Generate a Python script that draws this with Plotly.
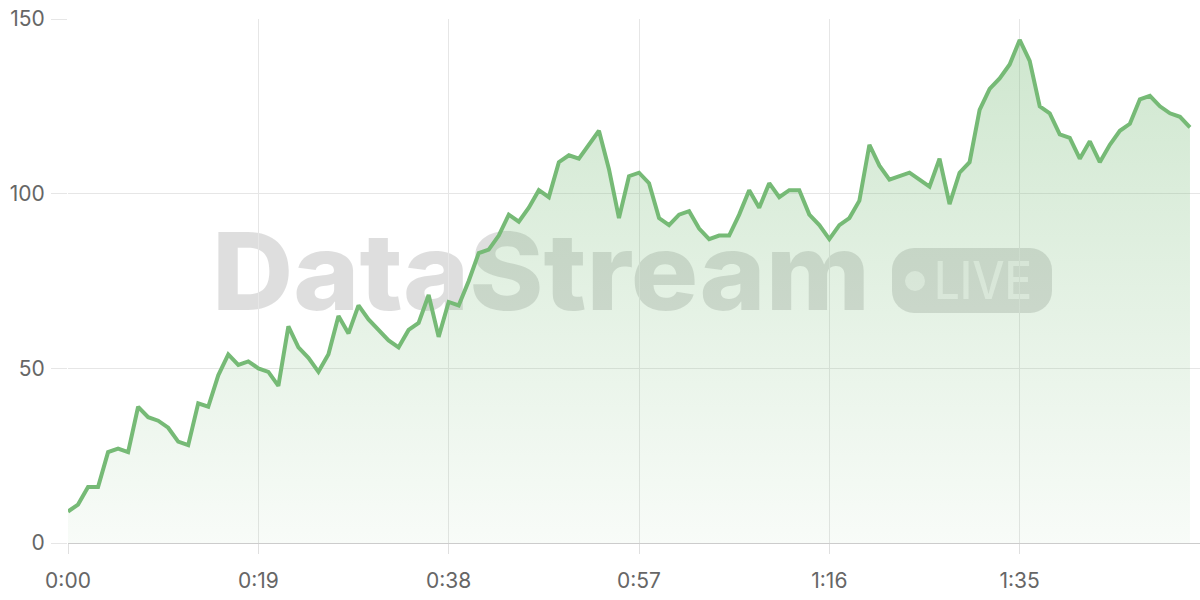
import base64
import plotly.graph_objects as go

# ---- data ----
seconds = list(range(0, 113))
values = [
    9, 11, 16, 16, 26, 27, 26, 39, 36, 35,
    33, 29, 28, 40, 39, 48, 54, 51, 52, 50,
    49, 45, 62, 56, 53, 49, 54, 65, 60, 68,
    64, 61, 58, 56, 61, 63, 71, 59, 69, 68,
    75, 83, 84, 88, 94, 92, 96, 101, 99, 109,
    111, 110, 114, 118, 107, 93, 105, 106, 103, 93,
    91, 94, 95, 90, 87, 88, 88, 94, 101, 96,
    103, 99, 101, 101, 94, 91, 87, 91, 93, 98,
    114, 108, 104, 105, 106, 104, 102, 110, 97, 106,
    109, 124, 130, 133, 137, 144, 138, 125, 123, 117,
    116, 110, 115, 109, 114, 118, 120, 127, 128, 125,
    123, 122, 119,
]
tick_vals = [0, 19, 38, 57, 76, 95]
tick_text = ["0:00", "0:19", "0:38", "0:57", "1:16", "1:35"]
y_ticks = [0, 50, 100, 150]
watermark_title = "DataStream"
watermark_badge = "LIVE"

# ---- layout geometry ----
W, H = 1200, 600
ML, MR, MT, MB = 68, 0, 19, 57
PW, PH = W - ML - MR, H - MT - MB

# watermark drawn as an SVG image beneath the traces
svg = f'''<svg xmlns="http://www.w3.org/2000/svg" width="{PW}" height="{PH}" viewBox="0 0 {PW} {PH}">
<text x="144" y="291" font-family="Inter, 'Open Sans', sans-serif" font-weight="800" font-size="107"
 fill="rgb(0,0,0)" fill-opacity="0.13" textLength="658" lengthAdjust="spacingAndGlyphs">{watermark_title}</text>
<rect x="824" y="229" width="160" height="65" rx="22" ry="22" fill="rgb(0,0,0)" fill-opacity="0.13"/>
<circle cx="847" cy="262" r="10" fill="#ffffff" fill-opacity="0.6"/>
<text x="866" y="280" font-family="Inter, 'Open Sans', sans-serif" font-weight="500" font-size="52"
 fill="#ffffff" fill-opacity="0.6" textLength="98" lengthAdjust="spacingAndGlyphs">{watermark_badge}</text>
</svg>'''
src = "data:image/svg+xml;base64," + base64.b64encode(svg.encode("utf-8")).decode("ascii")

fig = go.Figure()
fig.add_trace(go.Scatter(
    x=seconds, y=values, mode="lines",
    line=dict(color="#76ba76", width=4),
    fill="tozeroy",
    fillgradient=dict(
        type="vertical",
        start=0, stop=150,
        colorscale=[[0, "rgba(116,185,116,0.05)"], [1, "rgba(116,185,116,0.36)"]],
    ),
    hoverinfo="skip",
))

fig.update_layout(
    width=W, height=H,
    margin=dict(l=ML, r=MR, t=MT, b=MB, autoexpand=False),
    paper_bgcolor="white", plot_bgcolor="white",
    showlegend=False,
    font=dict(family="Inter, sans-serif", size=21, color="#666666"),
    images=[dict(source=src, xref="paper", yref="paper", x=0, y=1,
                 sizex=1, sizey=1, xanchor="left", yanchor="top",
                 sizing="stretch", layer="below")],
)
fig.update_xaxes(
    range=[0, 113], tickvals=tick_vals, ticktext=tick_text, automargin=False,
    showgrid=True, gridcolor="#e6e6e6", gridwidth=1,
    zeroline=False, showline=True, linecolor="#cccccc", linewidth=1,
    ticks="outside", ticklen=10, tickcolor="#e0e0e0", ticklabelstandoff=9,
    tickfont=dict(size=21, color="#666666"),
)
fig.update_yaxes(
    range=[0, 150], tickvals=y_ticks, automargin=False,
    showgrid=True, gridcolor="#e6e6e6", gridwidth=1,
    zeroline=False, showline=False,
    ticks="outside", ticklen=16, tickcolor="#e6e6e6", ticklabelstandoff=2,
    tickfont=dict(size=21, color="#666666"),
)

fig.write_html(
    "out.html",
    config={"displayModeBar": False},
    post_script="document.body.style.margin='0';document.body.style.overflow='hidden';",
)
